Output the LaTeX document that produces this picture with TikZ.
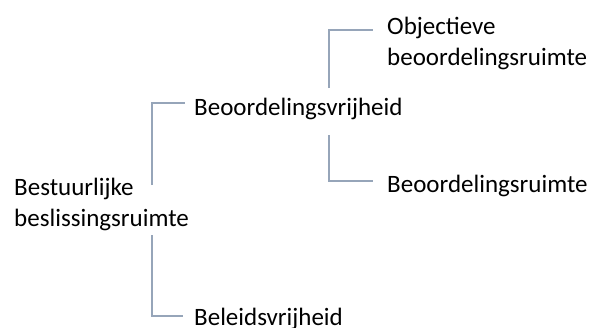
\documentclass[tikz,border=0pt]{standalone}
\usepackage{fontspec}
\setmainfont{Carlito}
\usetikzlibrary{calc}
\definecolor{linecol}{RGB}{150,165,185}
\tikzset{
  lbl/.style={inner sep=0pt, anchor=base west, align=left,
    font=\fontsize{25}{30.5}\selectfont, text=black},
  conn/.style={draw=linecol, line width=1.4pt}
}
\begin{document}
\begin{tikzpicture}[x=1pt,y=-1pt]
\useasboundingbox (0,0) rectangle (594,327);
\node[lbl] (root) at (14,226) {Bestuurlijke\\beslissingsruimte};
\node[lbl] (bv) at (194,115) {Beoordelingsvrijheid};
\node[lbl] (bel) at (194,325) {Beleidsvrijheid};
\node[lbl] (obj) at (387,65) {Objectieve\\beoordelingsruimte};
\node[lbl] (br) at (387,192) {Beoordelingsruimte};
% connector coordinates
\coordinate (r1) at (152,185);
\coordinate (e1) at (185,103);
\coordinate (r2) at (152,235);
\coordinate (e2) at (183,316);
\coordinate (b1) at (329,88);
\coordinate (e3) at (373,30);
\coordinate (b2) at (329,135);
\coordinate (e4) at (373,181);
\draw[conn] (r1) |- (e1);
\draw[conn] (r2) |- (e2);
\draw[conn] (b1) |- (e3);
\draw[conn] (b2) |- (e4);
\end{tikzpicture}
\end{document}
